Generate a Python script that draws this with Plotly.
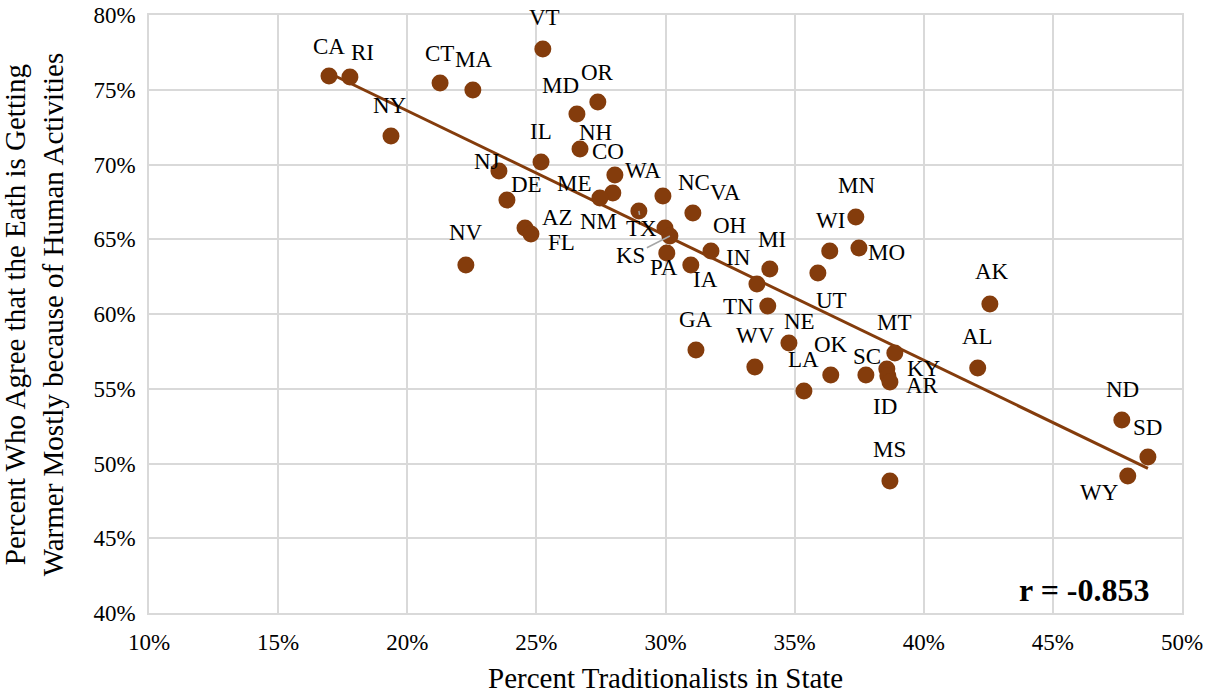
import numpy as np
import plotly.graph_objects as go

# ---------------- data ----------------
states = ["CA", "RI", "NY", "CT", "MA", "VT", "MD", "OR", "IL", "NH",
          "CO", "WA", "ME", "NJ", "DE", "AZ", "FL", "NV", "NM", "TX",
          "KS", "PA", "NC", "VA", "OH", "IA", "IN", "MI", "TN", "GA",
          "WV", "NE", "UT", "WI", "MN", "MO", "OK", "LA", "SC", "KY",
          "ID", "AR", "MT", "AL", "AK", "ND", "SD", "WY", "MS"]
trad = [16.97, 17.78, 19.37, 21.27, 22.54, 25.25, 26.57, 27.38, 25.18, 26.69,
        28.04, 27.96, 27.46, 23.55, 23.86, 24.56, 24.79, 22.27, 29.98, 28.97,
        30.17, 30.05, 29.90, 31.06, 31.76, 30.98, 33.54, 34.04, 33.96, 31.18,
        33.46, 34.78, 35.90, 36.36, 37.37, 37.49, 36.40, 35.36, 37.76, 38.57,
        38.61, 38.69, 38.88, 42.09, 42.56, 47.67, 48.68, 47.90, 38.69]
warm = [75.92, 75.85, 71.91, 75.45, 74.98, 77.73, 73.38, 74.18, 70.17, 71.04,
        69.30, 68.09, 67.76, 69.57, 67.63, 65.75, 65.35, 63.28, 65.75, 66.89,
        65.22, 64.08, 67.89, 66.76, 64.21, 63.28, 62.01, 63.01, 60.54, 57.59,
        56.45, 58.06, 62.74, 64.21, 66.49, 64.41, 55.92, 54.85, 55.92, 56.32,
        55.85, 55.45, 57.39, 56.39, 60.67, 52.91, 50.43, 49.16, 48.83]

x_ticks = [10, 15, 20, 25, 30, 35, 40, 45, 50]
y_ticks = [40, 45, 50, 55, 60, 65, 70, 75, 80]
r_text = "r = -0.853"
x_title = "Percent Traditionalists in State"
y_title = "Percent Who Agree that the Eath is Getting<br>Warmer Mostly because of Human Activities"

# ---------------- label placement (pixel offsets, styling only) ----------------
label_offsets = {
    "CA": (0, -30), "RI": (13, -25), "NY": (-1, -30), "CT": (-1, -30), "MA": (1, -31),
    "VT": (2, -31), "MD": (-16, -28), "OR": (0, -30), "IL": (0, -30), "NH": (15, -16),
    "CO": (-7, -23), "WA": (30, -23), "ME": (-25, -14), "NJ": (-12, -9), "DE": (20, -15),
    "AZ": (32, -11), "FL": (31, 8), "NV": (0, -32), "NM": (-66, -7), "TX": (3, 18),
    "KS": (-39, 20), "PA": (-3, 14), "NC": (31, -14), "VA": (33, -20), "OH": (19, -26),
    "IA": (15, 15), "IN": (-18, -26), "MI": (2, -30), "TN": (-29, 1), "GA": (0, -31),
    "WV": (1, -32), "NE": (11, -22), "UT": (14, 27), "WI": (1, -31), "MN": (1, -31),
    "MO": (28, 4), "OK": (0, -31), "LA": (0, -31), "SC": (1, -19), "KY": (37, -1),
    "ID": (-3, 30), "AR": (33, 3), "MT": (0, -31), "AL": (0, -31), "AK": (2, -32),
    "ND": (1, -31), "SD": (0, -30), "WY": (-28, 16), "MS": (0, -31),
}
leader_states = {"TX", "KS"}

BROWN = "#843C0C"
GRID = "#D9D9D9"
FONT = "Liberation Serif"

# ---------------- figure ----------------
fig = go.Figure()

# trendline (least squares fit of the data)
slope, intercept = np.polyfit(trad, warm, 1)
xfit = np.array([min(trad), max(trad)])
fig.add_trace(go.Scatter(x=xfit, y=slope * xfit + intercept, mode="lines",
                         line=dict(color=BROWN, width=3), hoverinfo="skip",
                         showlegend=False))

fig.add_trace(go.Scatter(x=trad, y=warm, mode="markers", text=states,
                         marker=dict(color=BROWN, size=17, line=dict(width=0)),
                         showlegend=False))

annotations = []
for s, xv, yv in zip(states, trad, warm):
    dx, dy = label_offsets[s]
    if s in leader_states:
        annotations.append(dict(x=xv, y=yv, xref="x", yref="y", text=s,
                                showarrow=True, ax=dx, ay=dy, arrowhead=0,
                                arrowwidth=1.5, arrowcolor="#A6A6A6", standoff=0,
                                font=dict(family=FONT, size=23, color="black")))
    else:
        annotations.append(dict(x=xv, y=yv, xref="x", yref="y", text=s,
                                showarrow=False, xshift=dx, yshift=-dy,
                                xanchor="center", yanchor="middle",
                                font=dict(family=FONT, size=23, color="black")))

annotations.append(dict(x=0.9705, y=0.038, xref="paper", yref="paper",
                        text="<b>" + r_text + "</b>", showarrow=False,
                        xanchor="right", yanchor="middle",
                        font=dict(family=FONT, size=32, color="black")))
annotations.append(dict(x=0.5, y=-0.109, xref="paper", yref="paper",
                        text=x_title, showarrow=False, xanchor="center",
                        yanchor="middle",
                        font=dict(family=FONT, size=29, color="black")))
annotations.append(dict(x=-0.111, y=0.5, xref="paper", yref="paper",
                        text=y_title, showarrow=False, textangle=-90,
                        xanchor="center", yanchor="middle",
                        font=dict(family=FONT, size=29, color="black")))

fig.update_layout(
    width=1211, height=694, autosize=False,
    margin=dict(l=149, r=29, t=15, b=81, autoexpand=False),
    paper_bgcolor="white", plot_bgcolor="white",
    annotations=annotations,
    font=dict(family=FONT, size=23, color="black"),
)
fig.update_xaxes(range=[10, 50], tickvals=x_ticks, automargin=False,
                 ticktext=[f"{v}%" for v in x_ticks],
                 showgrid=True, gridcolor=GRID, gridwidth=1.5,
                 showline=True, linecolor=GRID, linewidth=1.5, mirror=True,
                 zeroline=False, ticks="", ticklabelstandoff=8,
                 ticklabeloverflow="allow",
                 tickfont=dict(family=FONT, size=23, color="black"))
fig.update_yaxes(range=[40, 80], tickvals=y_ticks, automargin=False,
                 ticktext=[f"{v}%" for v in y_ticks],
                 showgrid=True, gridcolor=GRID, gridwidth=1.5,
                 showline=True, linecolor=GRID, linewidth=1.5, mirror=True,
                 zeroline=False, ticks="", ticklabelstandoff=7,
                 ticklabeloverflow="allow",
                 tickfont=dict(family=FONT, size=23, color="black"))

# remove the default 8px page margin so the figure fills the window exactly
fig.write_html("out.html",
               config={"displayModeBar": False},
               post_script="document.body.style.margin='0';"
                           "document.body.style.overflow='hidden';")
